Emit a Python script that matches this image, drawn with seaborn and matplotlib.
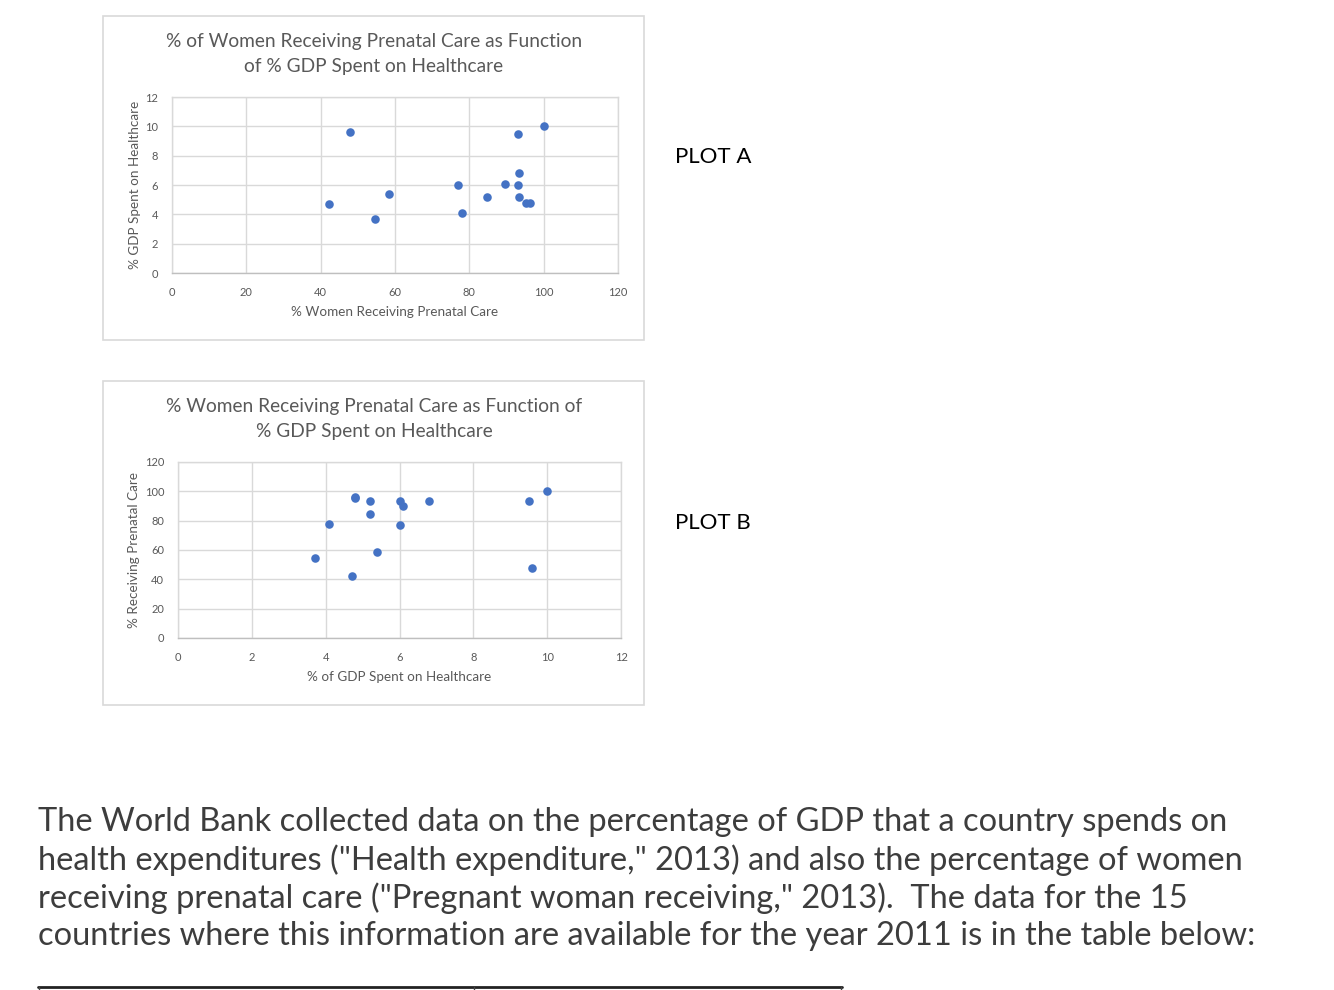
import matplotlib
matplotlib.use("Agg")
import matplotlib.pyplot as plt
import seaborn as sns
import pandas as pd
from matplotlib.patches import Rectangle
from matplotlib.lines import Line2D

# Data: 15 countries, year 2011
gdp_pct = [3.7, 4.1, 4.7, 4.8, 4.8, 5.2, 5.2, 5.4, 6.0, 6.0, 6.1, 6.8, 9.5, 9.6, 10.0]
prenatal_pct = [54.5, 78.0, 42.3, 95.3, 96.3, 93.4, 84.7, 58.3, 93.1, 77.0, 89.7, 93.4, 93.1, 47.8, 100.0]

title_a = "% of Women Receiving Prenatal Care as Function\nof % GDP Spent on Healthcare"
title_b = "% Women Receiving Prenatal Care as Function of\n% GDP Spent on Healthcare"
paragraph = [
    "The World Bank collected data on the percentage of GDP that a country spends on",
    "health expenditures (\"Health expenditure,\" 2013) and also the percentage of women",
    "receiving prenatal care (\"Pregnant woman receiving,\" 2013).  The data for the 15",
    "countries where this information are available for the year 2011 is in the table below:",
]

df = pd.DataFrame({"gdp": gdp_pct, "prenatal": prenatal_pct})

sns.set_theme(style="white")
plt.rcParams["font.family"] = ["Lato", "DejaVu Sans"]

W, H = 1334, 990
fig = plt.figure(figsize=(W / 100, H / 100), dpi=100)

grid_col = "#d9d9d9"
tick_col = "#595959"
title_col = "#595959"
dot_col = "#4472c4"


def px(x0, y0, x1, y1):
    # pixel box -> figure fraction rect
    return [x0 / W, 1 - y1 / H, (x1 - x0) / W, (y1 - y0) / H]


def style_ax(ax, xmax, xstep, ymax, ystep, xlabel, ylabel):
    ax.set_xlim(0, xmax)
    ax.set_ylim(0, ymax)
    ax.set_xticks(range(0, xmax + 1, xstep))
    ax.set_yticks(range(0, ymax + 1, ystep))
    ax.grid(True, color=grid_col, linewidth=1)
    ax.set_axisbelow(True)
    for s in ax.spines.values():
        s.set_color(grid_col)
        s.set_linewidth(1)
    ax.spines["bottom"].set_color("#bfbfbf")
    ax.tick_params(axis="both", length=0, labelsize=8, labelcolor=tick_col, pad=10)
    ax.set_xlabel(xlabel, fontsize=9.7, color=tick_col, labelpad=6)
    ax.set_ylabel(ylabel, fontsize=9.7, color=tick_col, labelpad=3)


# chart frames
for box in [(103, 16, 644, 340), (103, 381, 644, 705)]:
    r = px(*box)
    fig.patches.append(Rectangle((r[0], r[1]), r[2], r[3], transform=fig.transFigure,
                                 facecolor="white", edgecolor=grid_col, linewidth=1.2,
                                 zorder=-1))

# Plot A
ax_a = fig.add_axes(px(172, 97, 618, 273))
sns.scatterplot(data=df, x="prenatal", y="gdp", ax=ax_a, color=dot_col, s=38,
                edgecolor=dot_col, linewidth=0, zorder=3)
style_ax(ax_a, 120, 20, 12, 2, "% Women Receiving Prenatal Care", "% GDP Spent on Healthcare")
fig.text(374 / W, 1 - 54 / H, title_a, ha="center", va="center", fontsize=13.8,
         color=title_col, linespacing=1.55)

# Plot B
ax_b = fig.add_axes(px(178, 462, 621, 638))
sns.scatterplot(data=df, x="gdp", y="prenatal", ax=ax_b, color=dot_col, s=38,
                edgecolor=dot_col, linewidth=0, zorder=3)
style_ax(ax_b, 12, 2, 120, 20, "% of GDP Spent on Healthcare", "% Receiving Prenatal Care")
fig.text(374 / W, 1 - 419 / H, title_b, ha="center", va="center", fontsize=13.8,
         color=title_col, linespacing=1.55)

# side labels
fig.text(675 / W, 1 - 157 / H, "PLOT A", ha="left", va="center", fontsize=16, color="black")
fig.text(675 / W, 1 - 523 / H, "PLOT B", ha="left", va="center", fontsize=16, color="black")

# paragraph
for i, line in enumerate(paragraph):
    fig.text(38 / W, 1 - (822 + 38 * i) / H, line, ha="left", va="center",
             fontsize=23.5, color="#3d3d3d")

# top of the table below
fig.lines.append(Line2D([38 / W, 842 / W], [1 - 987 / H, 1 - 987 / H],
                        transform=fig.transFigure, color="#222222", linewidth=2))
for xv in [39, 474, 841]:
    fig.lines.append(Line2D([xv / W, xv / W], [1 - 987 / H, 0],
                            transform=fig.transFigure, color="#444444", linewidth=1))

fig.savefig("out.png", dpi=100)
